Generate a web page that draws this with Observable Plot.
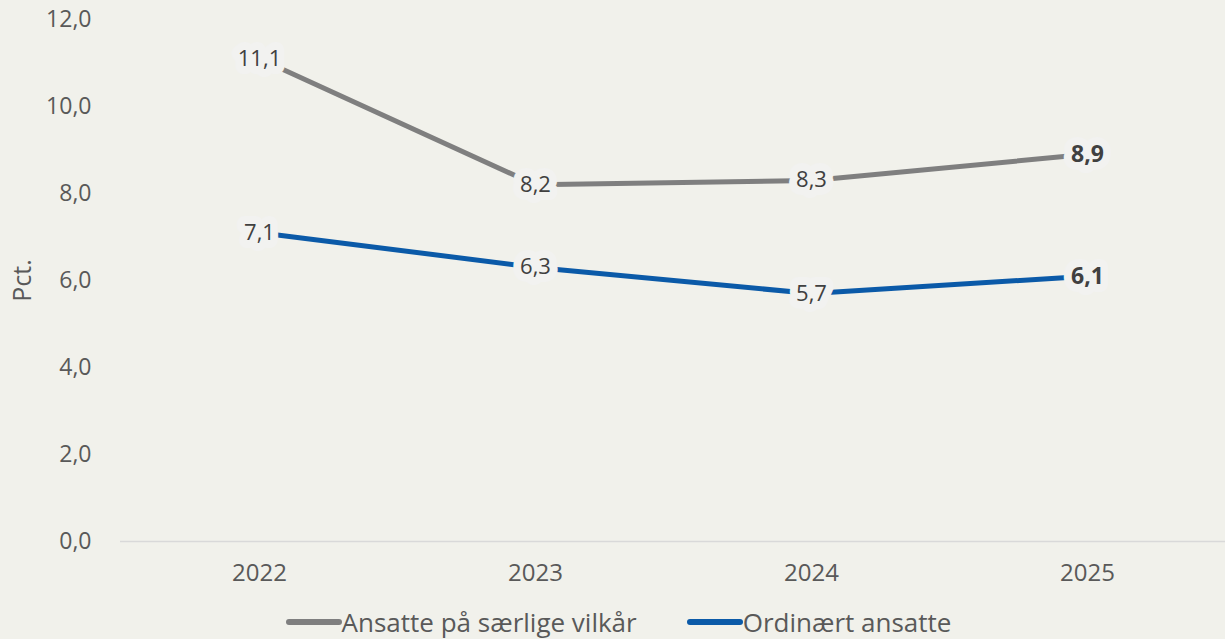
<!DOCTYPE html>
<html>
<head>
<meta charset="utf-8">
<script src="https://cdn.jsdelivr.net/npm/d3@7"></script>
<script src="https://cdn.jsdelivr.net/npm/@observablehq/plot@0.6"></script>
<style>
  html, body { margin: 0; padding: 0; background: #f1f1eb; }
  body { width: 1225px; height: 639px; overflow: hidden; font-family: "Open Sans", sans-serif; }
  #chart svg { display: block; }
  #legend { display: flex; justify-content: center; align-items: center; gap: 50px; margin-top: 13px; padding-left: 12px;
            font-size: 26px; line-height: 26px; color: #595959; height: 26px; }
  .item { display: flex; align-items: center; }
  .item svg { display: block; }
</style>
</head>
<body>
<div id="chart"></div>
<div id="legend"></div>
<script>
const years = ["2022", "2023", "2024", "2025"];
const saerlige = [11.1, 8.2, 8.3, 8.9];
const ordinaert = [7.1, 6.3, 5.7, 6.1];
const seriesNames = ["Ansatte på særlige vilkår", "Ordinært ansatte"];
const seriesColors = ["#7f7f7f", "#0b5aa8"];
const yTicks = [0, 2, 4, 6, 8, 10, 12];
const yLabel = "Pct.";

const fmt = d => d.toFixed(1).replace(".", ",");
const data = [];
[saerlige, ordinaert].forEach((vals, i) => {
  vals.forEach((v, j) => data.push({ year: years[j], value: v, series: seriesNames[i] }));
});
const lastYear = years[years.length - 1];

const chart = Plot.plot({
  width: 1225,
  height: 596,
  marginLeft: 120,
  marginRight: 0,
  marginTop: 19,
  marginBottom: 55,
  style: { background: "transparent", fontFamily: "Open Sans, sans-serif" },
  x: { type: "point", domain: years, padding: 0.5, label: null },
  y: { domain: [0, 12], label: null },
  color: { domain: seriesNames, range: seriesColors },
  marks: [
    Plot.ruleY([0], { stroke: "#d9d9d9", strokeWidth: 1.5 }),
    Plot.axisY(yTicks, { tickSize: 0, tickPadding: 29, tickFormat: fmt, fontSize: 23, fill: "#595959", label: null }),
    Plot.axisX(years, { tickSize: 0, tickPadding: 22, fontSize: 24, fill: "#595959", label: null }),
    Plot.text([yLabel], { frameAnchor: "left", textAnchor: "middle", dx: -98, rotate: -90, fontSize: 25, fill: "#595959" }),
    Plot.line(data, { x: "year", y: "value", z: "series", stroke: "series", strokeWidth: 5 }),
    Plot.text(data.filter(d => d.year !== lastYear), {
      x: "year", y: "value", text: d => fmt(d.value),
      fontSize: 22, fill: "#404040", stroke: "#f2f2f0", strokeWidth: 16, strokeLinejoin: "round"
    }),
    Plot.text(data.filter(d => d.year === lastYear), {
      x: "year", y: "value", text: d => fmt(d.value),
      fontSize: 23, fontWeight: "bold", fill: "#404040", stroke: "#f2f2f0", strokeWidth: 16, strokeLinejoin: "round"
    })
  ]
});
document.getElementById("chart").appendChild(chart);

const legend = document.getElementById("legend");
seriesNames.forEach((name, i) => {
  const item = document.createElement("div");
  item.className = "item";
  item.innerHTML = `<svg width="56" height="10"><line x1="3" y1="5" x2="53" y2="5" stroke="${seriesColors[i]}" stroke-width="6" stroke-linecap="round"/></svg><span>${name}</span>`;
  legend.appendChild(item);
});
</script>
</body>
</html>
